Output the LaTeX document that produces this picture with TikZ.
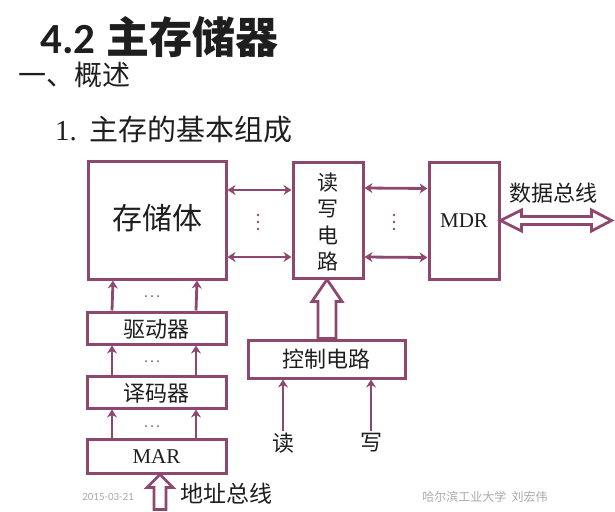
\documentclass[tikz,border=0pt]{standalone}
\usepackage{fontspec}
\setmainfont{Liberation Serif}
\newfontfamily\cjk{Noto Sans CJK SC}
\newfontfamily\carl{Carlito}
\usetikzlibrary{arrows.meta,calc}
\definecolor{lc}{RGB}{142,72,112}
\definecolor{tx}{RGB}{30,30,30}
\definecolor{ft}{RGB}{170,170,170}
\tikzset{
  box/.style={draw=lc,line width=3pt,inner sep=0pt,text=tx},
  arr/.style={draw=lc,line width=2.8pt,-{Stealth[length=8pt,width=10pt]}},
  darr/.style={draw=lc,line width=2.8pt,{Stealth[length=8pt,width=10pt]}-{Stealth[length=8pt,width=10pt]}},
  hollow/.style={draw=lc,line width=2.8pt,fill=white,line join=miter},
  lbl/.style={text=tx,inner sep=0pt},
  vdot/.style={fill=lc,draw=none},
  hdot/.style={fill=tx!70,draw=none}
}
\begin{document}
\begin{tikzpicture}[x=1pt,y=-1pt]
\useasboundingbox[fill=white] (0,0) rectangle (615,511);
% headings
\node[lbl,anchor=west] (title) at (40,37) {\fontsize{43}{48}\selectfont\bfseries{\carl 4.2} \cjk 主存储器};
\node[lbl,anchor=west] (sec) at (18,75) {\fontsize{28}{32}\selectfont\cjk 一、概述};
\node[lbl,anchor=west] (sub) at (55,130) {\fontsize{29}{32}\selectfont 1.\ \,{\cjk 主存的基本组成}};
% boxes
\node[box,minimum width=138pt,minimum height=118pt] (mem) at (157,220) {};
\node[lbl] at (157,218) {\fontsize{30}{34}\selectfont\cjk 存储体};
\node[box,minimum width=70pt,minimum height=116pt] (rw) at (328,220) {};
\node[lbl,align=center,font={\fontsize{21}{26.5}\selectfont\cjk}] at (328,222) {读\\写\\电\\路};
\node[box,minimum width=70pt,minimum height=117pt] (mdr) at (464,220.5) {};
\node[lbl] at (464,221) {\fontsize{21}{24}\selectfont MDR};
\node[box,minimum width=139pt,minimum height=32pt] (drv) at (156.5,328) {};
\node[lbl] at (156.5,329) {\fontsize{22}{24}\selectfont\cjk 驱动器};
\node[box,minimum width=139pt,minimum height=32pt] (dec) at (156.5,392) {};
\node[lbl] at (156.5,393) {\fontsize{22}{24}\selectfont\cjk 译码器};
\node[box,minimum width=139pt,minimum height=34pt] (mar) at (156.5,456) {};
\node[lbl] at (156.5,457) {\fontsize{21}{24}\selectfont MAR};
\node[box,minimum width=157pt,minimum height=38pt] (ctl) at (326.5,359) {};
\node[lbl] at (326.5,359) {\fontsize{22}{24}\selectfont\cjk 控制电路};
% horizontal links
\draw[darr] ($(mem.east)+(0,-30)$) -- ($(rw.west)+(0,-30)$);
\draw[darr] ($(mem.east)+(0,37)$) -- ($(rw.west)+(0,37)$);
\draw[darr] ($(rw.east)+(0,-32)$) -- ($(mdr.west)+(0,-32)$);
\draw[darr] ($(rw.east)+(0,37)$) -- ($(mdr.west)+(0,37)$);
\foreach \y in {215,222,229} {\fill[vdot] (258,\y) circle (1.3); \fill[vdot] (394,\y) circle (1.3);}
% vertical links in left column
\foreach \dx in {-44.5,39.5} {
  \draw[arr] ($(drv.north)+(\dx,0)$) -- ($(mem.south)+(\dx+0.5,0)$);
  \draw[arr] ($(dec.north)+(\dx,0)$) -- ($(drv.south)+(\dx,0)$);
  \draw[arr] ($(mar.north)+(\dx,0)$) -- ($(dec.south)+(\dx,0)$);
}
\foreach \y in {296,361,426} {\foreach \x in {146,152,158} {\fill[hdot] (\x,\y) circle (1);}}
% data bus
\coordinate (dbL) at (mdr.east);
\draw[hollow] (dbL) -- ++(21,-10.5) -- ++(0,6.5) -- ++(70,0) -- ++(0,-6.5) -- ++(20,10.5) -- ++(-20,10.5) -- ++(0,-6.5) -- ++(-70,0) -- ++(0,6.5) -- cycle;
\node[lbl] (dbt) at (553,193) {\fontsize{22}{24}\selectfont\cjk 数据总线};
% address bus
\coordinate (abT) at ($(mar.south)+(3.5,0)$);
\draw[hollow] (abT) -- ++(13,13) -- ++(-7,0) -- ++(0,22) -- ++(-12,0) -- ++(0,-22) -- ++(-7,0) -- cycle;
\node[lbl] (abt) at (226,494) {\fontsize{23}{26}\selectfont\cjk 地址总线};
% control to rw
\coordinate (cT) at ($(rw.south)+(-1,0)$);
\coordinate (cB) at ($(ctl.north)+(0.5,0)$);
\draw[hollow] (cT) -- ++(15,22) -- ($(cT)+(9,22)$) -- ($(cB)+(9,0)$) -- ($(cB)+(-9,0)$) -- ($(cT)+(-9,22)$) -- ($(cT)+(-15,22)$) -- cycle;
% read / write
\node[lbl] (rd) at (283,443) {\fontsize{22}{24}\selectfont\cjk 读};
\node[lbl] (wr) at (371,443) {\fontsize{22}{24}\selectfont\cjk 写};
\draw[arr] (rd.north) ++(0,-2) -- (rd.north |- ctl.south);
\draw[arr] (wr.north) ++(0,-2) -- (wr.north |- ctl.south);
% footer
\node[lbl,text=ft] (date) at (108,497) {\fontsize{11}{12}\selectfont\carl 2015-03-21};
\node[lbl,text=ft] (auth) at (485,497) {\fontsize{12}{13}\selectfont\cjk 哈尔滨工业大学\ \ 刘宏伟};
\end{tikzpicture}
\end{document}
